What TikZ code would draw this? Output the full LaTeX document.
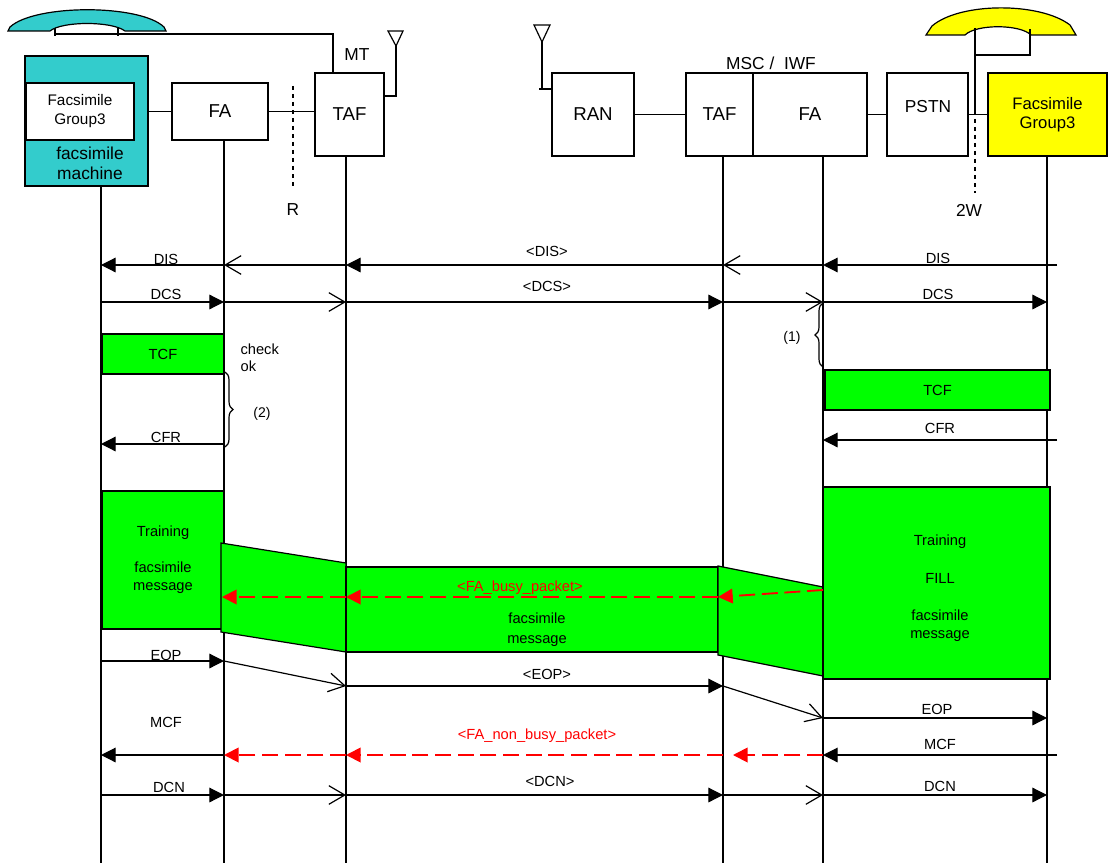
\documentclass[tikz,border=0pt]{standalone}
\usepackage{fontspec}
\setmainfont{Liberation Sans}
\usetikzlibrary{arrows.meta,decorations.pathreplacing}
\definecolor{fmcyan}{RGB}{51,204,204}
\definecolor{fagreen}{RGB}{0,255,0}
\definecolor{fgyellow}{RGB}{255,255,0}
\definecolor{fared}{RGB}{255,0,0}
\begin{document}
\begin{tikzpicture}[x=0.75pt,y=-0.75pt,line width=0.9pt,
    box/.style={draw,inner sep=0pt,font=\fontsize{14}{16}\selectfont},
    lbl/.style={inner sep=0pt,font=\fontsize{11}{13}\selectfont},
    big/.style={inner sep=0pt,font=\fontsize{13}{15}\selectfont},
    pane/.style={draw,fill=fagreen},
    full/.style={-{Triangle[length=11pt,width=11pt]}},
    barb/.style={-{Straight Barb[length=12pt,width=14pt]}},
    pkt/.style={draw=fared,line width=1.4pt,dash pattern=on 12pt off 5pt,
      -{Triangle[length=11pt,width=11pt,fill=fared]}},
    curly/.style={decorate,decoration={brace,amplitude=6pt}}]
    \useasboundingbox (0,0) rectangle (1109,863);
    % lifelines and message rows
    \coordinate (l1) at (101,0);
    \coordinate (l2) at (224,0);
    \coordinate (l3) at (346,0);
    \coordinate (l4) at (723,0);
    \coordinate (l5) at (823,0);
    \coordinate (l6) at (1047,0);
    \coordinate (l6e) at (1057,0);
    \coordinate (bot) at (0,863);
    \coordinate (dis) at (0,265);
    \coordinate (dcs) at (0,302);
    \coordinate (cfrL) at (0,444);
    \coordinate (cfrR) at (0,440);
    \coordinate (busy) at (0,597);
    \coordinate (eopL) at (0,661);
    \coordinate (eopM) at (0,686);
    \coordinate (eopR) at (0,718);
    \coordinate (mcf) at (0,755);
    \coordinate (dcn) at (0,795);

    % handsets
    \draw[fill=fmcyan] (8,31) -- (10,27) .. controls (35,4) and (140,4) .. (164,27) -- (166,31)
      -- (125,31) .. controls (112,21) and (62,21) .. (50,31) -- cycle;
    \draw[fill=fgyellow] (926,35) -- (932,26) .. controls (960,2) and (1040,2) .. (1070,25)
      -- (1076,35) -- (1031,35) .. controls (1020,24) and (976,24) .. (965,35) -- cycle;

    % parties
    \node[box,fill=fmcyan,minimum width=92.25pt,minimum height=97.5pt] (fm) at (86.5,121) {};
    \node[box,fill=white,minimum width=81pt,minimum height=42.75pt,align=center,
      font=\fontsize{11.5}{14.25}\selectfont] (fg3L) at (80,111.5) {Facsimile\\Group3};
    \node[big,align=center] (fmT) at (90,163) {facsimile\\machine};
    \node[box,minimum width=72pt,minimum height=42.75pt] (faL) at (220,111.5) {FA};
    \node[box,minimum width=51.75pt,minimum height=62.25pt] (tafL) at (349.5,114.5) {TAF};
    \node[box,minimum width=61.5pt,minimum height=62.25pt] (ran) at (593,114.5) {RAN};
    \node[box,minimum width=50.25pt,minimum height=62.25pt] (tafR) at (719.5,114.5) {TAF};
    \node[box,minimum width=85.5pt,minimum height=62.25pt] (faR) at (810,114.5) {FA};
    \node[box,minimum width=60.75pt,minimum height=62.25pt] (pstn) at (927.5,114.5) {};
    \node[big] (pstnT) at (928,107) {PSTN};
    \node[box,fill=fgyellow,minimum width=89.25pt,minimum height=62.25pt,align=center,
      font=\fontsize{12.5}{14.25}\selectfont] (fg3R) at (1047.5,114.5) {Facsimile\\Group3};
    \node[big] (mt) at (357,55) {MT};
    \node[big] (msc) at (771,63) {MSC / \ IWF};
    \node[big] (rT) at (293,210) {R};
    \node[big] (wT) at (969,210) {2W};

    % links between parties
    \draw (fm.east |- faL.west) -- (faL.west);
    \draw (faL.east) -- (faL.east -| tafL.west);
    \draw (ran.east) -- (tafR.west);
    \draw (faR.east) -- (pstn.west);
    \draw (pstn.east) -- (fg3R.west);
    \draw[dashed] (293,86) -- (293,187);
    \draw[dashed] (975,87) -- (975,193);
    % cords and antennas
    \draw (55,28) -- (55,36);
    \draw (118,28) -- (118,36);
    \draw (55,34) -- (333,34) -- (333,73);
    \draw (975,28) -- (975,115);
    \draw (975,55) -- (1030,55) -- (1030,29);
    \draw (tafL.east |- 0,96) -- (396,96) -- (396,46);
    \draw (388,31) -- (403,31) -- (396,46) -- cycle;
    \draw (539,89) -- (ran.west |- 0,89);
    \draw (542,89) -- (542,42);
    \draw (534,25) -- (550,25) -- (542,42) -- cycle;

    % lifelines
    \draw (l1 |- fm.south) -- (l1 |- bot);
    \draw (l2 |- faL.south) -- (l2 |- bot);
    \draw (l3 |- tafL.south) -- (l3 |- bot);
    \draw (l4 |- tafR.south) -- (l4 |- bot);
    \draw (l5 |- faR.south) -- (l5 |- bot);
    \draw (l6 |- fg3R.south) -- (l6 |- bot);

    % DIS
    \draw[full] (l6e |- dis) -- (l5 |- dis);
    \draw[barb] (l5 |- dis) -- (l4 |- dis);
    \draw[full] (l4 |- dis) -- (l3 |- dis);
    \draw[barb] (l3 |- dis) -- (l2 |- dis);
    \draw[full] (l2 |- dis) -- (l1 |- dis);
    \node[lbl] (disL) at (166,259) {DIS};
    \node[lbl] (disM) at (547,251) {<DIS>};
    \node[lbl] (disR) at (938,258) {DIS};
    % DCS
    \draw[full] (l1 |- dcs) -- (l2 |- dcs);
    \draw[barb] (l2 |- dcs) -- (l3 |- dcs);
    \draw[full] (l3 |- dcs) -- (l4 |- dcs);
    \draw[barb] (l4 |- dcs) -- (l5 |- dcs);
    \draw[full] (l5 |- dcs) -- (l6 |- dcs);
    \node[lbl] (dcsL) at (166,294) {DCS};
    \node[lbl] (dcsM) at (547,286) {<DCS>};
    \node[lbl] (dcsR) at (938,294) {DCS};

    % TCF and CFR
    \node[pane,inner sep=0pt,minimum width=91.5pt,minimum height=30pt,lbl] (tcfL) at (163,354) {TCF};
    \node[pane,inner sep=0pt,minimum width=168.75pt,minimum height=30pt,lbl] (tcfR) at (937.5,390) {TCF};
    \node[lbl,anchor=west,align=left,font=\fontsize{11}{12.75}\selectfont] (chk) at (240,358) {check\\ok};
    \draw[curly] (225,372) -- (225,447);
    \node[lbl,font=\fontsize{10.5}{12}\selectfont] (two) at (262,414) {(2)};
    \draw[curly] (823,367) -- (823,303);
    \node[lbl,font=\fontsize{10.5}{12}\selectfont] (one) at (792,338) {(1)};
    \draw[full] (l2 |- cfrL) -- (l1 |- cfrL);
    \node[lbl] (cfrLT) at (166,437) {CFR};
    \draw[full] (l6e |- cfrR) -- (l5 |- cfrR);
    \node[lbl] (cfrRT) at (940,428) {CFR};

    % facsimile message
    \node[pane,inner sep=0pt,minimum width=91.5pt,minimum height=103.5pt,lbl,align=center,
      font=\fontsize{11}{13.5}\selectfont] (trL) at (163,560) {Training\\[13.5pt]facsimile\\message};
    \draw[pane] (221,543) -- (346,563) -- (346,652) -- (221,632) -- cycle;
    \draw[pane] (346,567) rectangle (718,652);
    \draw[pane] (718,566) -- (823,587) -- (823,676) -- (718,655) -- cycle;
    \node[pane,inner sep=0pt,minimum width=170.25pt,minimum height=144pt] (trR) at (936.5,583) {};
    \node[lbl,align=center,font=\fontsize{11}{13.9}\selectfont] (trRT) at (940,588.5)
      {Training\\[13.9pt]FILL\\[13.9pt]facsimile\\message};
    \node[lbl,align=center,font=\fontsize{11}{15}\selectfont] (fmsg) at (537,630) {facsimile\\message};
    \coordinate (bz0) at (823,590);
    \coordinate (bz1) at (718,597);
    \draw[pkt] (bz0) -- (bz1);
    \draw[pkt] (bz1) -- (l3 |- busy);
    \draw[pkt] (l3 |- busy) -- (222,597);
    \node[lbl,text=fared] (busyT) at (520,588) {<FA\_busy\_packet>};

    % EOP
    \draw[full] (l1 |- eopL) -- (l2 |- eopL);
    \draw[barb] (l2 |- eopL) -- (l3 |- eopM);
    \draw[full] (l3 |- eopM) -- (l4 |- eopM);
    \draw[barb] (l4 |- eopM) -- (l5 |- eopR);
    \draw[full] (l5 |- eopR) -- (l6 |- eopR);
    \node[lbl] (eopLT) at (166,655) {EOP};
    \node[lbl] (eopMT) at (547,674) {<EOP>};
    \node[lbl] (eopRT) at (937,709) {EOP};
    % MCF
    \coordinate (mc0) at (733,755);
    \draw[pkt] (l5 |- mcf) -- (mc0);
    \draw[pkt] (l4 |- mcf) -- (l3 |- mcf);
    \draw[pkt] (l3 |- mcf) -- (l2 |- mcf);
    \draw[full] (l2 |- mcf) -- (l1 |- mcf);
    \draw[full] (l6e |- mcf) -- (l5 |- mcf);
    \node[lbl] (mcfLT) at (166,722) {MCF};
    \node[lbl,text=fared] (nbT) at (537,736) {<FA\_non\_busy\_packet>};
    \node[lbl] (mcfRT) at (940,744) {MCF};
    % DCN
    \draw[full] (l1 |- dcn) -- (l2 |- dcn);
    \draw[barb] (l2 |- dcn) -- (l3 |- dcn);
    \draw[full] (l3 |- dcn) -- (l4 |- dcn);
    \draw[barb] (l4 |- dcn) -- (l5 |- dcn);
    \draw[full] (l5 |- dcn) -- (l6 |- dcn);
    \node[lbl] (dcnLT) at (169,787) {DCN};
    \node[lbl] (dcnMT) at (550,781) {<DCN>};
    \node[lbl] (dcnRT) at (940,786) {DCN};
\end{tikzpicture}
\end{document}
